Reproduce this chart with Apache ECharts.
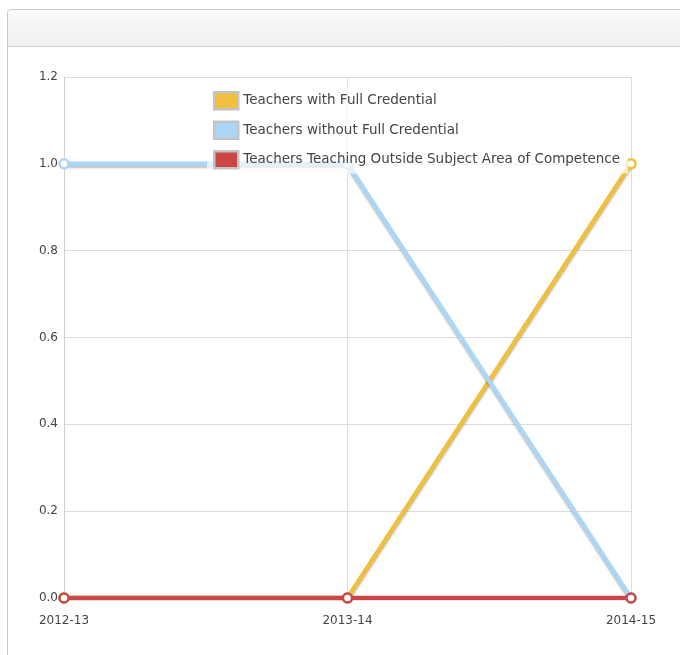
<!DOCTYPE html>
<html>
<head>
<meta charset="utf-8">
<script src="https://cdn.jsdelivr.net/npm/echarts@6/dist/echarts.min.js"></script>
<style>
  html, body { margin: 0; padding: 0; background: #fff; width: 680px; height: 655px; overflow: hidden; }
  #panel { position: absolute; left: 7px; top: 9px; width: 700px; height: 700px; border: 1px solid #c8c8c8; border-radius: 4px 0 0 0; }
  #head { height: 36px; border-bottom: 1px solid #d0d0d0; background: linear-gradient(#fbfbfb, #efefef); border-radius: 4px 0 0 0; }
  #chart { position: absolute; left: 0; top: 0; width: 680px; height: 655px; }
</style>
</head>
<body>
<div id="panel"><div id="head"></div></div>
<div id="chart"></div>
<script>
// School years on the x axis
const years = ['2012-13', '2013-14', '2014-15'];

// Share of teachers per category
const fullCredential = [0, 0, 1];
const withoutFullCredential = [1, 1, 0];
const outsideSubjectArea = [0, 0, 0];

const seriesNames = [
  'Teachers with Full Credential',
  'Teachers without Full Credential',
  'Teachers Teaching Outside Subject Area of Competence'
];
const seriesColors = ['#eec03e', '#acd6f6', '#cc4646'];
const seriesData = [fullCredential, withoutFullCredential, outsideSubjectArea];

const chart = echarts.init(document.getElementById('chart'), null, { renderer: 'canvas' });

chart.setOption({
  animation: false,
  textStyle: { fontFamily: 'DejaVu Sans', color: '#444' },
  grid: { left: 64, right: 49, top: 77, bottom: 57 },
  legend: {
    orient: 'vertical',
    left: 207,
    top: 87,
    padding: [4, 8, 4, 6],
    itemGap: 10,
    itemWidth: 24,
    itemHeight: 17,
    icon: 'rect',
    backgroundColor: 'rgba(255,255,255,0.65)',
    textStyle: { fontFamily: 'DejaVu Sans', fontSize: 13.5, color: '#444', padding: [0, 0, 0, 0] },
    data: seriesNames.map((n, i) => ({
      name: n,
      itemStyle: { color: seriesColors[i], borderColor: '#c4c4c4', borderWidth: 2.5 }
    }))
  },
  xAxis: {
    type: 'category',
    data: years,
    boundaryGap: false,
    axisLine: { show: false },
    axisTick: { show: false },
    axisLabel: { color: '#444', fontSize: 12, margin: 17, fontFamily: 'DejaVu Sans' },
    splitLine: { show: true, lineStyle: { color: '#dcdcdc' } }
  },
  yAxis: {
    type: 'value',
    min: 0,
    max: 1.2,
    interval: 0.2,
    axisLine: { show: true, lineStyle: { color: '#cfcfcf' } },
    axisTick: { show: false },
    axisLabel: { color: '#444', fontSize: 12, margin: 6, fontFamily: 'DejaVu Sans',
      formatter: v => v.toFixed(1) },
    splitLine: { show: true, lineStyle: { color: '#dcdcdc' } }
  },
  series: seriesData.map((d, i) => ({
    name: seriesNames[i],
    type: 'line',
    data: d,
    color: seriesColors[i],
    symbol: 'circle',
    symbolSize: 9,
    showAllSymbol: true,
    z: 2 + i,
    lineStyle: {
      width: 4.5,
      color: seriesColors[i],
      shadowColor: 'rgba(0,0,0,0.25)',
      shadowBlur: 2,
      shadowOffsetY: 2
    },
    itemStyle: {
      color: '#fff',
      borderColor: seriesColors[i],
      borderWidth: 2.5
    }
  }))
});
</script>
</body>
</html>
